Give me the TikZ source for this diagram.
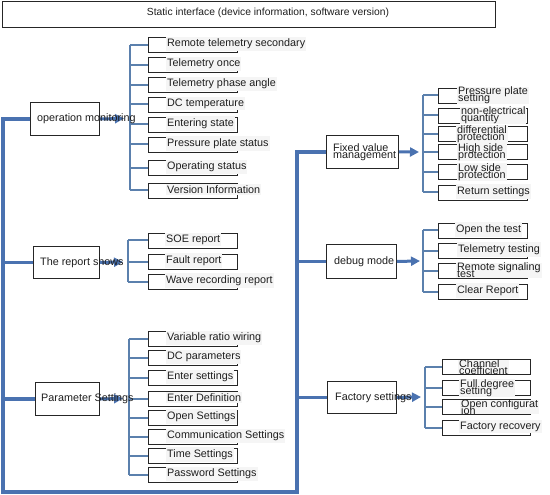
\documentclass[tikz,border=0pt]{standalone}
\usepackage{fontspec}
\setmainfont{Liberation Sans}
\usetikzlibrary{arrows.meta,calc}
\definecolor{mainblue}{HTML}{4A72B0}
\definecolor{brblue}{HTML}{5B80AD}
\definecolor{txt}{HTML}{1E1E1E}
\begin{document}
\begin{tikzpicture}[x=1pt,y=-1pt,
  font=\fontsize{10.8}{12}\selectfont,
  mainbox/.style={draw=black!85, line width=0.9pt, fill=white, inner sep=0pt, anchor=north west},
  cbox/.style={draw=black!85, line width=0.8pt, inner sep=0pt, minimum width=89pt, minimum height=15pt, anchor=west},
  ctext/.style={anchor=west, fill=white!96!black, inner xsep=1pt, inner ysep=2pt, text=txt},
  ctwo/.style={ctext, align=left, inner ysep=0pt},
  mtext/.style={anchor=west, inner sep=0pt, text=txt},
  bigline/.style={draw=mainblue, line width=3.5pt, line join=miter},
  brline/.style={draw=brblue, line width=2pt},
  arr/.style={draw=mainblue, line width=3pt, -{Triangle[width=9pt,length=9pt]}},
]
\useasboundingbox (0,0) rectangle (550,495);

% top bar
\node[draw=black!85, line width=0.9pt, minimum width=493pt, minimum height=26pt, anchor=north west, inner sep=0pt] (top) at (1.5,1.5) {};
\node[text=txt, inner sep=0pt, font=\fontsize{10.3}{12}\selectfont] (toptext) at (268,13) {Static interface (device information, software version)};

% main boxes
\node[mainbox, minimum width=69pt, minimum height=33pt] (om) at (30,102) {};
\node[mainbox, minimum width=66pt, minimum height=32pt] (rs) at (33,246) {};
\node[mainbox, minimum width=64pt, minimum height=33pt] (ps) at (35,382) {};
\node[mainbox, minimum width=72pt, minimum height=33pt] (fv) at (326,135) {};
\node[mainbox, minimum width=70pt, minimum height=34pt] (dm) at (326,244) {};
\node[mainbox, minimum width=69pt, minimum height=32pt] (fs) at (327,381) {};

% big connector
\coordinate (L) at (3,0);
\coordinate (R) at (297,0);
\coordinate (B) at (0,492);
\draw[bigline] (om.west) -- (L |- om.west) -- (L |- B) -- (R |- B) -- (R |- fv.west) -- (fv.west);
\draw[bigline] (L |- rs.west) -- (rs.west);
\draw[bigline] (L |- ps.west) -- (ps.west);
\draw[bigline] (R |- dm.west) -- (dm.west);
\draw[bigline] (R |- fs.west) -- (fs.west);

% operation monitoring children
\foreach \n/\y/\t in {1/45/Remote telemetry secondary, 2/65/Telemetry once, 3/85/Telemetry phase angle, 4/104.5/DC temperature, 5/124.5/Entering state, 6/144.5/Pressure plate status, 7/168/Operating status, 8/190.5/Version Information}{
  \node[cbox] (om\n) at (148,\y) {};
  \node[ctext] (omt\n) at ([xshift=18pt,yshift=1pt]om\n.west) {\t};
}
\coordinate (omb) at (130,0);
\coordinate (omtip) at (124,118.5);
\draw[brline] (omb |- om1.west) -- (omb |- om8.west);
\foreach \n in {1,...,8}{\draw[brline] (omb |- om\n.west) -- (om\n.west);}
\draw[arr] (om.east) -- (omtip);

% report children
\foreach \n/\y/\t in {1/240.5/SOE report, 2/261.5/Fault report, 3/281.5/Wave recording report}{
  \node[cbox] (rs\n) at (148,\y) {};
  \node[ctext] (rst\n) at ([xshift=17pt,yshift=1pt]rs\n.west) {\t};
}
\coordinate (rsb) at (128,0);
\coordinate (rstip) at (123,262);
\draw[brline] (rsb |- rs1.west) -- (rsb |- rs3.west);
\foreach \n in {1,...,3}{\draw[brline] (rsb |- rs\n.west) -- (rs\n.west);}
\draw[arr] (rs.east) -- (rstip);

% parameter children
\foreach \n/\y/\t in {1/339/Variable ratio wiring, 2/358/DC parameters, 3/378/Enter settings, 4/398.5/Enter Definition, 5/417.5/Open Settings, 6/437/Communication Settings, 7/455.5/Time Settings, 8/475/Password Settings}{
  \node[cbox] (ps\n) at (148,\y) {};
  \node[ctext] (pst\n) at ([xshift=18pt,yshift=1pt]ps\n.west) {\t};
}
\coordinate (psb) at (129,0);
\coordinate (pstip) at (123,398.5);
\draw[brline] (psb |- ps1.west) -- (psb |- ps8.west);
\foreach \n in {1,...,8}{\draw[brline] (psb |- ps\n.west) -- (ps\n.west);}
\draw[arr] (ps.east) -- (pstip);

% fixed value children
\node[cbox] (fv1) at (438,95.5) {};
\node[ctwo] (fvt1) at ([xshift=19pt]fv1.west) {Pressure plate\\[-5pt]setting};
\node[cbox] (fv2) at (438,115.5) {};
\node[ctwo] (fvt2) at ([xshift=22pt]fv2.west) {non-electrical\\[-5pt]quantity};
\node[cbox] (fv3) at (438,134) {};
\node[ctwo] (fvt3) at ([xshift=18pt]fv3.west) {differential\\[-5pt]protection};
\node[cbox] (fv4) at (438,152) {};
\node[ctwo] (fvt4) at ([xshift=19pt]fv4.west) {High side\\[-5pt]protection};
\node[cbox] (fv5) at (438,172) {};
\node[ctwo] (fvt5) at ([xshift=19pt]fv5.west) {Low side\\[-5pt]protection};
\node[cbox] (fv6) at (438,192.5) {};
\node[ctext] (fvt6) at ([xshift=18pt,yshift=1pt]fv6.west) {Return settings};
\coordinate (fvb) at (423,0);
\coordinate (fvtip) at (419,152);
\draw[brline] (fvb |- fv1.west) -- (fvb |- fv6.west);
\foreach \n in {1,...,6}{\draw[brline] (fvb |- fv\n.west) -- (fv\n.west);}
\draw[arr] (fv.east) -- (fvtip);

% debug children
\node[cbox] (dm1) at (438,230.5) {};
\node[ctext] (dmt1) at ([xshift=17pt,yshift=1pt]dm1.west) {Open the test};
\node[cbox] (dm2) at (438,250.5) {};
\node[ctext] (dmt2) at ([xshift=19pt,yshift=1pt]dm2.west) {Telemetry testing};
\node[cbox] (dm3) at (438,270.5) {};
\node[ctwo] (dmt3) at ([xshift=18pt]dm3.west) {Remote signaling\\[-5pt]test};
\node[cbox] (dm4) at (438,291.5) {};
\node[ctext] (dmt4) at ([xshift=18pt,yshift=1pt]dm4.west) {Clear Report};
\coordinate (dmb) at (423,0);
\coordinate (dmtip) at (420,261);
\draw[brline] (dmb |- dm1.west) -- (dmb |- dm4.west);
\foreach \n in {1,...,4}{\draw[brline] (dmb |- dm\n.west) -- (dm\n.west);}
\draw[arr] (dm.east) -- (dmtip);

% factory children
\node[cbox, minimum width=88pt] (fs1) at (442,367) {};
\node[ctwo] (fst1) at ([xshift=16pt]fs1.west) {Channel\\[-5pt]coefficient};
\node[cbox, minimum width=88pt] (fs2) at (442,388) {};
\node[ctwo] (fst2) at ([xshift=17pt]fs2.west) {Full degree\\[-5pt]setting};
\node[cbox, minimum width=88pt] (fs3) at (442,407) {};
\node[ctwo] (fst3) at ([xshift=18pt]fs3.west) {Open configurat\\[-5pt]ion};
\node[cbox, minimum width=88pt] (fs4) at (442,427.5) {};
\node[ctext] (fst4) at ([xshift=17pt,yshift=1pt]fs4.west) {Factory recovery};
\coordinate (fsb) at (425,0);
\coordinate (fstip) at (421,397);
\draw[brline] (fsb |- fs1.west) -- (fsb |- fs4.west);
\foreach \n in {1,...,4}{\draw[brline] (fsb |- fs\n.west) -- (fs\n.west);}
\draw[arr] (fs.east) -- (fstip);

% main box texts (on top of arrows)
\node[mtext] (omt) at ([xshift=7pt]om.west) {operation monitoring};
\node[mtext] (rst) at ([xshift=7pt]rs.west) {The report shows};
\node[mtext] (pst) at ([xshift=6pt]ps.west) {Parameter Settings};
\node[mtext, align=left] (fvt) at ([xshift=7pt]fv.west) {Fixed value\\[-5pt]management};
\node[mtext] (dmt) at ([xshift=8pt]dm.west) {debug mode};
\node[mtext] (fst) at ([xshift=8pt]fs.west) {Factory settings};
\end{tikzpicture}
\end{document}
